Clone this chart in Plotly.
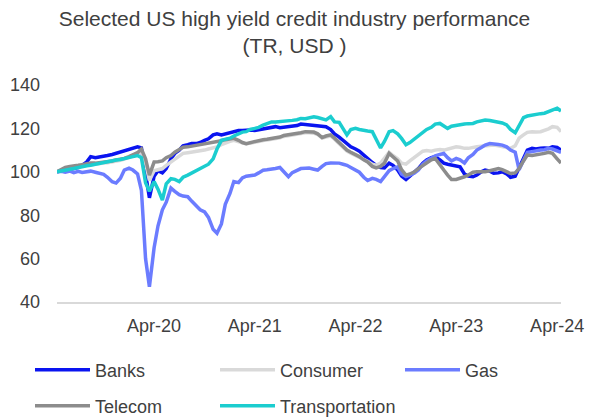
import pandas as pd
import plotly.graph_objects as go

# Semi-monthly observation dates (1st and 15th of each month)
dates = [d for d in pd.date_range("2019-04-01", "2024-04-30", freq="D") if d.day in (1, 15)]
dates = [d for d in dates if pd.Timestamp("2019-04-15") <= d <= pd.Timestamp("2024-04-15")]

banks = [
    100, 100.5, 101, 101.2, 101.5, 102, 103, 104.6, 107, 106.5, 106.8, 107, 107.5, 108, 108.5, 109,
    109.5, 110, 110.5, 111.5, 111, 98, 88, 98, 100.5, 99.5, 101.5, 106, 108.5, 110, 112, 112.5,
    113, 113, 113.5, 114.5, 115.2, 117, 117.5, 117, 117.5, 118, 118.5, 119, 119, 119.3, 119.3, 119,
    119.3, 119.5, 120, 120.5, 120.8, 120.3, 120.5, 120.8, 121, 121.3, 122, 121.8, 121.6, 121.3, 121, 120.8,
    120.8, 119.5, 117.5, 116, 114.5, 113, 111.5, 110.5, 109.5, 107.7, 106, 104.3, 103, 102, 101.8, 104,
    103, 100.8, 98, 96.5, 98, 100, 101.5, 104, 105.5, 106.5, 107, 105.5, 104, 103.5, 103, 102.7,
    102.3, 99, 98, 97.7, 98.5, 100, 100.8, 100.3, 99.3, 99.5, 100, 99, 97.5, 98, 102, 106,
    110, 110.8, 110.5, 110.8, 111, 110.8, 111.5, 111.2, 110,
]

consumer = [
    100, 100.6, 101.5, 102, 102.2, 102.5, 102.8, 103.2, 103.5, 103.5, 103.8, 104, 104.2, 104.5, 105, 105.3,
    105.8, 106.5, 107.3, 108.2, 109.5, 104, 96, 100.5, 101, 101.5, 103, 104.5, 106, 107.5, 108.5, 108.8,
    109, 109.2, 109.5, 110, 110.5, 111, 111.5, 112.5, 113.3, 114, 114.5, 114, 113.3, 112.8, 113.2, 113.7,
    114.2, 114.5, 114.7, 115, 115.2, 115.7, 116.3, 116.7, 117, 117.3, 117.6, 118, 118, 117.8, 117.2, 115.5,
    116, 116.5, 115, 113, 111.5, 109.6, 108.6, 107.6, 106.8, 105.5, 104.8, 103.5, 103, 104, 106, 109,
    107.5, 106, 104, 103.5, 105, 106.5, 108, 109.5, 109.8, 109.5, 110, 110.3, 110, 110.5, 111, 111.5,
    111.3, 110.8, 110.8, 111, 111.5, 111.8, 112, 112.3, 112.3, 112, 111.5, 111, 110.8, 112, 115.5, 117,
    118.2, 118.5, 118.3, 118.5, 119, 119.8, 120.8, 120.5, 118.5,
]

gas = [
    100, 100.2, 99.8, 100.3, 99.6, 100.2, 99.7, 100, 100.3, 99.8, 99.5, 98.8, 97.5, 95.4, 94.8, 97,
    100.8, 101.7, 100.8, 99, 91.5, 60, 47, 65, 75, 82.5, 86, 92.5, 91, 89.5, 88.8, 88.5,
    86.5, 84.5, 82.5, 81.5, 79, 73.5, 71.7, 76, 85, 90, 95.5, 95, 97.2, 98, 98.3, 98.5,
    99.5, 100.7, 100.9, 101.1, 101.5, 102, 99.8, 97.7, 99.6, 100.8, 101.5, 101.6, 101.7, 101.2, 100.8, 102.5,
    103.8, 104.1, 104.2, 104, 103.5, 103, 102, 101, 99.8, 97.5, 96, 97, 96.5, 95.5, 97.5, 100.5,
    101.5, 102.3, 99, 97.8, 98.5, 99.5, 100.8, 103.5, 105, 106.5, 107.3, 108, 108.5, 106.5, 105, 106.2,
    105.5, 104, 106.5, 108, 110, 111.2, 112.3, 113, 113, 112.6, 112.3, 111.5, 110, 109, 101, 105.4,
    109, 109.3, 109.8, 110, 110.2, 110.8, 110.5, 109.5, 109,
]

telecom = [
    100, 101, 102, 102.5, 102.6, 103, 103.3, 103.8, 104, 104, 104.2, 104.5, 104.6, 105, 105.5, 105.8,
    106.2, 107, 107.8, 108.8, 110.5, 106, 98.5, 104.5, 104.6, 105, 106.5, 107.5, 109, 110, 111.3, 111.5,
    111.8, 112, 112.3, 112.8, 113.2, 113.5, 113.9, 114.3, 114.8, 115, 115.4, 114.5, 113.5, 113, 113.5, 114,
    114.5, 114.8, 115, 115.3, 115.5, 116, 116.7, 117, 117.3, 117.7, 118, 118.5, 118.5, 118.3, 117.5, 115.8,
    116.5, 117, 115.5, 113.5, 112, 110, 109, 108, 107, 105.5, 104.5, 102.5, 101.8, 102.5, 104, 108.5,
    107, 105, 101, 98.5, 99, 100, 101.5, 103, 104, 105.5, 106.2, 103, 100.8, 98.5, 96.5, 96.5,
    97, 97.7, 98.5, 99.8, 100, 100, 100, 100.5, 101, 101.5, 101, 100, 99.2, 99.5, 101.5, 105,
    107.7, 107.5, 107.7, 108, 108.5, 109, 108.5, 106, 104,
]

transportation = [
    100, 100.5, 101, 101.2, 101.5, 102, 102.5, 102.8, 103, 103.5, 104, 104.3, 104.6, 105, 105.4, 105.7,
    106, 106.3, 107, 107.5, 106.5, 95, 91, 95.5, 92, 87, 94.5, 96.8, 96.5, 95.5, 97.5, 98.5,
    99.5, 100.5, 101.8, 102.5, 103.5, 106, 110.5, 114.5, 115, 115.5, 116.5, 117.5, 118.3, 118.5, 119.5, 120,
    120.5, 121.5, 122.2, 123, 123, 123.2, 123, 123.3, 123.7, 124, 124.6, 124.5, 124.8, 125.4, 125, 124.2,
    123.9, 125.4, 123, 122.8, 120, 117, 119.5, 120, 119.5, 119, 118.8, 118.5, 115, 111, 114, 118.5,
    119, 117.5, 115.4, 112.5, 113.5, 115.2, 116.5, 118.5, 119.5, 120.5, 122, 122.3, 121, 120, 121, 121.5,
    121.8, 122, 122.2, 122.3, 123, 123.5, 123.9, 123.6, 123.2, 123, 122.5, 121.6, 119.5, 118, 121, 125,
    125.7, 126.2, 126.5, 126.8, 127, 127.8, 128.5, 129.3, 128,
]

y_ticks = [40, 60, 80, 100, 120, 140]
x_ticks = ["2020-04-01", "2021-04-01", "2022-04-01", "2023-04-01", "2024-04-01"]

W, H = 589, 418

# name, values, colour, legend id, legend anchor in figure pixels (left, middle)
series = [
    ("Banks", banks, "#0A14F0", "legend", (30, 370)),
    ("Consumer", consumer, "#D9D9D9", "legend2", (215, 370)),
    ("Gas", gas, "#6B7CFF", "legend3", (400, 370)),
    ("Telecom", telecom, "#8C8C8C", "legend4", (30, 406)),
    ("Transportation", transportation, "#1BCDCF", "legend5", (215, 406)),
]

font = "Liberation Sans, Arial, sans-serif"

fig = go.Figure()
legends = {}
for name, vals, color, leg, (px, py) in series:
    fig.add_trace(go.Scatter(
        x=dates, y=vals, name=name, mode="lines",
        line=dict(color=color, width=3.5),
        legend=leg,
    ))
    legends[leg] = dict(
        x=px / W, y=1 - py / H, xref="container", yref="container",
        xanchor="left", yanchor="middle", orientation="h",
        font=dict(family=font, size=18, color="#404040"),
        itemwidth=55, bgcolor="rgba(0,0,0,0)",
    )

fig.update_layout(
    width=W, height=H,
    margin=dict(l=57, r=28, t=85, b=116),
    paper_bgcolor="white", plot_bgcolor="white",
    title=dict(
        text="Selected US high yield credit industry performance<br>(TR, USD )",
        x=0.5, xref="container", xanchor="center", y=0.938, yanchor="top",
        font=dict(family=font, size=21, color="#404040"),
    ),
    xaxis=dict(
        range=[dates[0], dates[-1]],
        tickvals=x_ticks, tickformat="%b-%y",
        showgrid=False, zeroline=False, automargin=False,
        showline=True, linecolor="#D9D9D9", linewidth=1.5,
        ticks="", ticklabelstandoff=7,
        tickfont=dict(family=font, size=18, color="#404040"),
    ),
    yaxis=dict(
        range=[40, 140], tickvals=y_ticks,
        showgrid=False, zeroline=False, showline=False, automargin=False,
        ticks="", ticklabelstandoff=16,
        tickfont=dict(family=font, size=18, color="#404040"),
    ),
    showlegend=True,
    **legends,
)

fig.write_html("out.html")
